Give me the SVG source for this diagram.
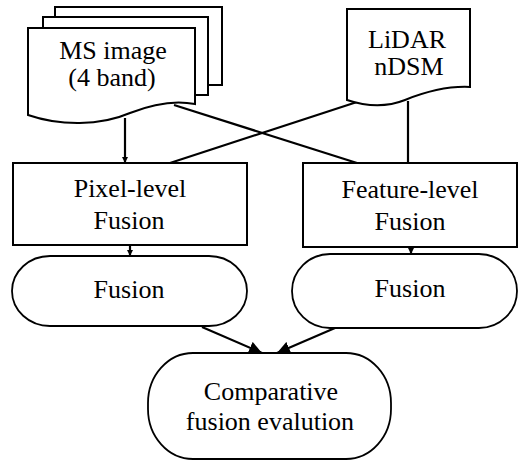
<svg xmlns="http://www.w3.org/2000/svg" width="519" height="461" viewBox="0 0 519 461">
<defs>
<style>
.shape{fill:#fff;stroke:#000;stroke-width:2}
.round{fill:#fff;stroke:#000;stroke-width:1.8}
.line{fill:none;stroke:#000;stroke-width:2.2}
text{font-family:"Liberation Serif","Times New Roman",serif;font-size:26px;fill:#000;text-anchor:middle}
</style>
<marker id="ah" viewBox="0 0 10 10" refX="10" refY="5" markerWidth="6" markerHeight="6" markerUnits="userSpaceOnUse" orient="auto"><path d="M0,0 L10,5 L0,10 z" fill="#000"/></marker>
<marker id="ahb" viewBox="0 0 10 10" refX="10" refY="5" markerWidth="13" markerHeight="13" markerUnits="userSpaceOnUse" orient="auto"><path d="M0,0 L10,5 L0,10 z" fill="#000"/></marker>
</defs>
<rect width="519" height="461" fill="#fff"/>
<g id="connectors">
<line class="line" x1="125" y1="118" x2="125" y2="163" marker-end="url(#ah)"/>
<line class="line" x1="408" y1="101" x2="408" y2="163"/>
<line class="line" x1="174" y1="105" x2="357" y2="163"/>
<line class="line" x1="357" y1="102" x2="170" y2="163"/>
<line class="line" x1="130" y1="246" x2="130" y2="256" marker-end="url(#ah)"/>
<line class="line" x1="411" y1="247" x2="411" y2="254" marker-end="url(#ah)"/>
<line class="line" x1="202" y1="327" x2="262" y2="353" marker-end="url(#ahb)"/>
<line class="line" x1="335" y1="328" x2="277" y2="353" marker-end="url(#ahb)"/>
</g>
<g id="ms-image">
<path class="shape" d="M55,17 V7 H222 V85 H208"/>
<path class="shape" d="M43,28 V17 H208 V95 H195"/>
<path class="shape" d="M28,28 H195 V104 C175,100 155,103 130,113 C100,126 60,126 28,115 Z"/>
<text x="113" y="59">MS image</text>
<text x="112" y="86">(4 band)</text>
</g>
<g id="lidar">
<path class="shape" d="M347,9 H470 V87 C450,86 430,90 405,100 C385,108 365,106 347,100 Z"/>
<text x="407" y="48">LiDAR</text>
<text x="409" y="75">nDSM</text>
</g>
<g id="pixel-level">
<rect class="shape" x="13" y="163" width="234" height="82"/>
<text x="130" y="197">Pixel-level</text>
<text x="129" y="229">Fusion</text>
</g>
<g id="feature-level">
<rect class="shape" x="303" y="163" width="214" height="84"/>
<text x="410" y="198">Feature-level</text>
<text x="410" y="230">Fusion</text>
</g>
<g id="fusion-left">
<rect class="round" x="12" y="256" width="235" height="70" rx="38" ry="35"/>
<text x="129" y="298">Fusion</text>
</g>
<g id="fusion-right">
<rect class="round" x="292" y="254" width="225" height="74" rx="38" ry="37"/>
<text x="410" y="297">Fusion</text>
</g>
<g id="comparative">
<rect class="round" x="148" y="353" width="243" height="106" rx="45" ry="50"/>
<text x="271" y="400">Comparative</text>
<text x="270" y="430">fusion evalution</text>
</g>
</svg>
